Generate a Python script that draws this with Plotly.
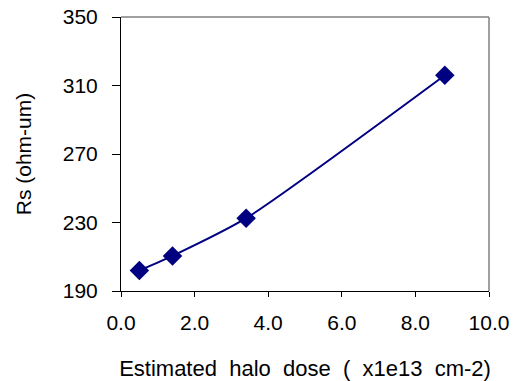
import plotly.graph_objects as go

dose = [0.5, 1.4, 3.4, 8.8]
rs = [202, 210.5, 232.5, 316]
x_ticks = [0, 2, 4, 6, 8, 10]
x_labels = ["0.0", "2.0", "4.0", "6.0", "8.0", "10.0"]
y_ticks = [190, 230, 270, 310, 350]

fig = go.Figure()
fig.add_trace(go.Scatter(
    x=dose, y=rs, mode="lines+markers",
    line=dict(color="#000080", width=2, shape="spline", smoothing=0.6),
    marker=dict(symbol="diamond", size=15, color="#000080"),
))

font = dict(family="Liberation Sans, Arial, sans-serif", size=21, color="black")
fig.update_layout(
    width=519, height=381,
    margin=dict(l=121, r=30, t=17, b=90),
    paper_bgcolor="white", plot_bgcolor="white",
    showlegend=False,
    font=font,
    xaxis=dict(range=[0, 10], tickvals=x_ticks, ticktext=x_labels, automargin=False,
               showgrid=False, zeroline=False, showline=True, linecolor="black",
               linewidth=1, ticks="outside", ticklen=5, tickcolor="black",
               ticklabelstandoff=8, tickfont=dict(size=21),
               title=dict(text="Estimated  halo  dose  (  x1e13  cm-2)", font=dict(size=22), standoff=36)),
    yaxis=dict(range=[190, 350], tickvals=y_ticks, automargin=False,
               showgrid=False, zeroline=False, showline=True, linecolor="black",
               linewidth=1, ticks="outside", ticklen=8, tickcolor="black",
               ticklabelstandoff=10, tickfont=dict(size=21),
               title=dict(text="Rs (ohm-um)", font=dict(size=21), standoff=25)),
)
fig.add_shape(type="line", xref="paper", yref="paper", x0=0, x1=1, y0=1, y1=1,
              line=dict(color="#808080", width=1.5))
fig.add_shape(type="line", xref="paper", yref="paper", x0=1, x1=1, y0=0, y1=1,
              line=dict(color="#808080", width=1.5))
fig.write_html("out.html")
